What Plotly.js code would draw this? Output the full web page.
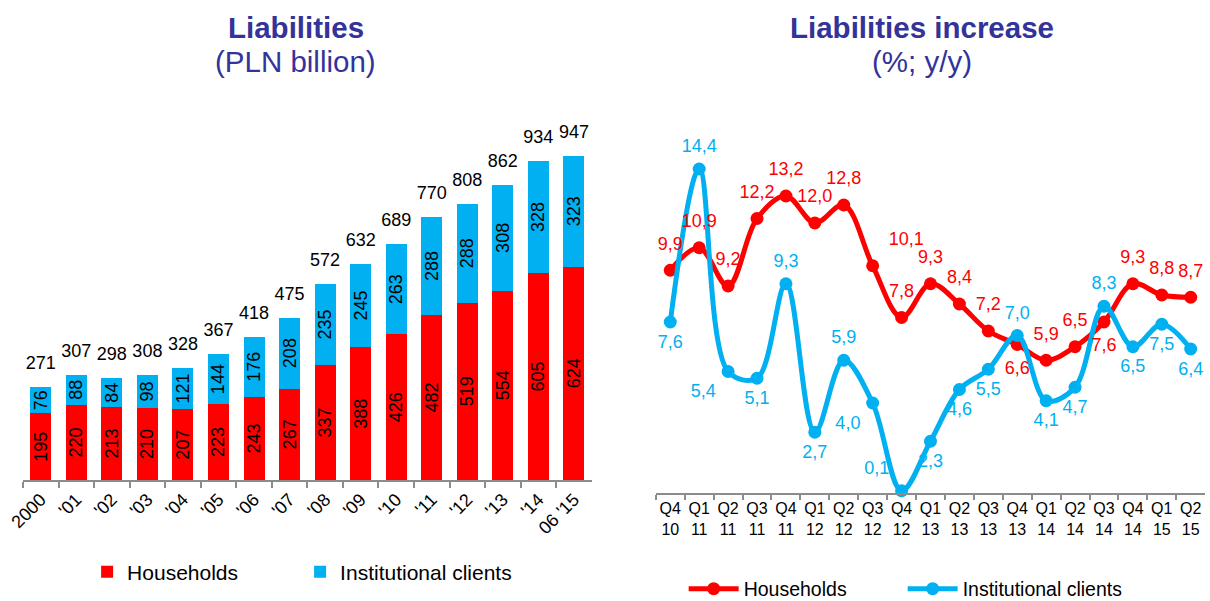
<!DOCTYPE html>
<html>
<head>
<meta charset="utf-8">
<script src="https://cdn.plot.ly/plotly-3.0.1.min.js"></script>
<style>html,body{margin:0;padding:0;background:#fff;}#chart{width:1210px;height:601px;}</style>
</head>
<body>
<div id="chart"></div>
<script>
// ---- Left chart: Liabilities (PLN billion) ----
const years = ["2000", "'01", "'02", "'03", "'04", "'05", "'06", "'07", "'08", "'09", "'10", "'11", "'12", "'13", "'14", "06 '15"];
const households = [195, 220, 213, 210, 207, 223, 243, 267, 337, 388, 426, 482, 519, 554, 605, 624];
const institutional = [76, 88, 84, 98, 121, 144, 176, 208, 235, 245, 263, 288, 288, 308, 328, 323];
const totals = [271, 307, 298, 308, 328, 367, 418, 475, 572, 632, 689, 770, 808, 862, 934, 947];

// ---- Right chart: Liabilities increase (%; y/y) ----
const quarters = ["Q4<br>10", "Q1<br>11", "Q2<br>11", "Q3<br>11", "Q4<br>11", "Q1<br>12", "Q2<br>12", "Q3<br>12", "Q4<br>12", "Q1<br>13", "Q2<br>13", "Q3<br>13", "Q4<br>13", "Q1<br>14", "Q2<br>14", "Q3<br>14", "Q4<br>14", "Q1<br>15", "Q2<br>15"];
const hhGrowth = [9.9, 10.9, 9.2, 12.2, 13.2, 12.0, 12.8, 10.1, 7.8, 9.3, 8.4, 7.2, 6.6, 5.9, 6.5, 7.6, 9.3, 8.8, 8.7];
const instGrowth = [7.6, 14.4, 5.4, 5.1, 9.3, 2.7, 5.9, 4.0, 0.1, 2.3, 4.6, 5.5, 7.0, 4.1, 4.7, 8.3, 6.5, 7.5, 6.4];
const hhLabelPos = ["top center", "top center", "top center", "top center", "top center", "top center", "top center", "top right", "top center", "top center", "top center", "top center", "bottom center", "top center", "top center", "bottom center", "top center", "top center", "top center"];
const instLabelPos = ["bottom center", "top center", "bottom left", "bottom center", "top center", "bottom center", "top center", "bottom left", "top left", "bottom center", "bottom center", "bottom center", "top center", "bottom center", "bottom center", "top center", "bottom center", "bottom center", "bottom center"];

const RED = '#FF0000', BLUE = '#00B0F0', TITLE = '#333399', AXIS = '#8C8C8C';
const fmt = v => v.toFixed(1).replace('.', ',');

const traces = [
  {
    type: 'bar', name: 'Households', x: years, y: households,
    marker: {color: RED}, xaxis: 'x', yaxis: 'y', legend: 'legend',
    text: households.map(String), textposition: 'inside', insidetextanchor: 'middle',
    textangle: -90, constraintext: 'none', textfont: {size: 18, color: '#000'},
    hoverinfo: 'x+y'
  },
  {
    type: 'bar', name: 'Institutional clients', x: years, y: institutional,
    marker: {color: BLUE}, xaxis: 'x', yaxis: 'y', legend: 'legend',
    text: institutional.map(String), textposition: 'inside', insidetextanchor: 'middle',
    textangle: -90, constraintext: 'none', textfont: {size: 18, color: '#000'},
    hoverinfo: 'x+y'
  },
  {
    // totals above each stacked bar (invisible marker pushes the text up)
    type: 'scatter', mode: 'markers+text', x: years, y: totals, text: totals.map(String),
    marker: {size: 20, opacity: 0},
    textposition: 'top center', textfont: {size: 18, color: '#000'},
    xaxis: 'x', yaxis: 'y', showlegend: false, cliponaxis: false, hoverinfo: 'skip'
  },
  {
    type: 'scatter', mode: 'lines+markers', name: 'Households',
    x: quarters, y: hhGrowth,
    line: {color: RED, width: 5, shape: 'spline', smoothing: 1},
    marker: {color: RED, size: 13},
    xaxis: 'x2', yaxis: 'y2', legend: 'legend2', cliponaxis: false
  },
  {
    type: 'scatter', mode: 'lines+markers', name: 'Institutional clients',
    x: quarters, y: instGrowth,
    line: {color: BLUE, width: 5, shape: 'spline', smoothing: 1},
    marker: {color: BLUE, size: 13},
    xaxis: 'x2', yaxis: 'y2', legend: 'legend2', cliponaxis: false
  },
  {
    type: 'scatter', mode: 'markers+text', x: quarters, y: hhGrowth, text: hhGrowth.map(fmt),
    textposition: hhLabelPos, textfont: {size: 18, color: RED},
    marker: {size: 24, opacity: 0},
    xaxis: 'x2', yaxis: 'y2', showlegend: false, cliponaxis: false, hoverinfo: 'skip'
  },
  {
    type: 'scatter', mode: 'markers+text', x: quarters, y: instGrowth, text: instGrowth.map(fmt),
    textposition: instLabelPos, textfont: {size: 18, color: BLUE},
    marker: {size: 18, opacity: 0},
    xaxis: 'x2', yaxis: 'y2', showlegend: false, cliponaxis: false, hoverinfo: 'skip'
  }
];

const axisCommon = {
  type: 'category', showline: true, linecolor: AXIS, linewidth: 2,
  ticks: 'outside', tickson: 'boundaries', ticklen: 6, tickcolor: AXIS, tickwidth: 2,
  showgrid: false, zeroline: false, fixedrange: true, automargin: false
};

const layout = {
  width: 1210, height: 601,
  margin: {l: 0, r: 0, t: 0, b: 0, autoexpand: false},
  paper_bgcolor: '#fff', plot_bgcolor: '#fff',
  font: {family: 'Liberation Sans, Arial, sans-serif', color: '#000'},
  barmode: 'stack', bargap: 0.41,
  showlegend: true,
  xaxis: Object.assign({}, axisCommon, {domain: [0.019, 0.489], anchor: 'y', range: [-0.5, 15.5], tickangle: -45, tickfont: {size: 18, color: '#000'}}),
  yaxis: {domain: [0.2013, 0.7704], range: [0, 1000], visible: false, fixedrange: true},
  xaxis2: Object.assign({}, axisCommon, {domain: [0.542, 0.996], anchor: 'y2', range: [-0.5, 18.5], tickangle: 0, ticklen: 5, tickfont: {size: 16, color: '#000'}}),
  yaxis2: {domain: [0.1797, 0.7413], range: [0, 15], visible: false, fixedrange: true},
  legend: {
    orientation: 'h', x: 0.072, xanchor: 'left', y: 0.048, yanchor: 'middle',
    font: {size: 21, color: '#000'}, itemwidth: 30, entrywidth: 168,
    bgcolor: 'rgba(0,0,0,0)', traceorder: 'normal', itemclick: false, itemdoubleclick: false
  },
  legend2: {
    orientation: 'h', x: 0.565, xanchor: 'left', y: 0.02, yanchor: 'middle',
    font: {size: 19.5, color: '#000'}, itemwidth: 50, entrywidth: 154,
    bgcolor: 'rgba(0,0,0,0)', traceorder: 'normal', itemclick: false, itemdoubleclick: false
  },
  annotations: [
    {text: '<b>Liabilities</b>', x: 0.2446, y: 1 - 28 / 601, xref: 'paper', yref: 'paper', xanchor: 'center', yanchor: 'middle', showarrow: false, font: {size: 29.5, color: TITLE}},
    {text: '(PLN billion)', x: 0.2446, y: 1 - 61 / 601, xref: 'paper', yref: 'paper', xanchor: 'center', yanchor: 'middle', showarrow: false, font: {size: 29.5, color: TITLE}},
    {text: '<b>Liabilities increase</b>', x: 0.762, y: 1 - 28 / 601, xref: 'paper', yref: 'paper', xanchor: 'center', yanchor: 'middle', showarrow: false, font: {size: 29.5, color: TITLE}},
    {text: '(%; y/y)', x: 0.762, y: 1 - 61 / 601, xref: 'paper', yref: 'paper', xanchor: 'center', yanchor: 'middle', showarrow: false, font: {size: 29.5, color: TITLE}}
  ]
};

Plotly.newPlot('chart', traces, layout, {displayModeBar: false});
</script>
</body>
</html>
